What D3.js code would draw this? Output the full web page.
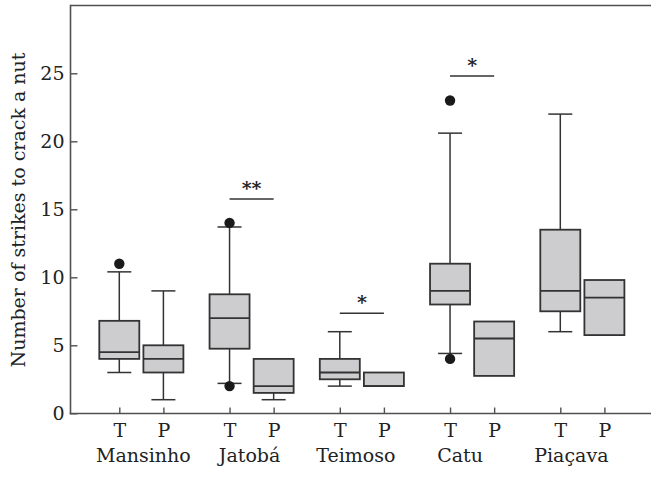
<!DOCTYPE html>
<html>
<head>
<meta charset="utf-8">
<script src="https://cdn.jsdelivr.net/npm/d3@7"></script>
<style>
  html, body { margin: 0; padding: 0; background: #fff; }
  svg { display: block; }
  text { font-family: "DejaVu Serif", "Liberation Serif", serif; fill: #222; }
</style>
</head>
<body>
<svg id="chart" width="651" height="477"></svg>
<script>
// ---------- data ----------
const sites = ["Mansinho", "Jatobá", "Teimoso", "Catu", "Piaçava"];
const treatments = ["T", "P"];
const yTicks = [0, 5, 10, 15, 20, 25];

// T series
const tLow    = [3,   2.2,  2,   4.4, 6];
const tQ1     = [4,   4.75, 2.5, 8,   7.5];
const tMedian = [4.5, 7,    3,   9,   9];
const tQ3     = [6.8, 8.75, 4,   11,  13.5];
const tHigh   = [10.4, 13.7, 6,  20.6, 22];
const tOutliers = [[11], [14, 2], [], [23, 4], []];

// P series
const pLow    = [1,   1,   2, 2.75, 5.75];
const pQ1     = [3,   1.5, 2, 2.75, 5.75];
const pMedian = [4,   2,   2, 5.5,  8.5];
const pQ3     = [5,   4,   3, 6.75, 9.8];
const pHigh   = [9,   4,   3, 6.75, 9.8];
const pOutliers = [[], [], [], [], []];

// significance markers (site, label, height)
const sigSites  = ["Jatobá", "Teimoso", "Catu"];
const sigLabels = ["**", "*", "*"];
const sigValues = [15.75, 7.35, 24.8];

// ---------- layout ----------
const W = 651, H = 477;
const plot = { left: 70.5, right: 651, top: 5.5, bottom: 413.5 };
const boxW = 40, capW = 24, dotR = 5.2;
const lineCol = "#505050", boxStroke = "#333", fill = "#cdcdcf";

const svg = d3.select("#chart");

// position of treatment j of site i (T at 1, P at 2; groups 2.5 apart)
const pos = (i, j) => i * 2.5 + 1 + j;
const x = d3.scaleLinear().domain([0, 13]).range([75.2, 648.5]);
const y = d3.scaleLinear().domain([0, 30]).range([413.3, 5.3]);

// build box records
const boxes = [];
sites.forEach((s, i) => {
  boxes.push({ site: s, tr: "T", p: pos(i, 0), low: tLow[i], q1: tQ1[i], med: tMedian[i], q3: tQ3[i], high: tHigh[i], out: tOutliers[i] });
  boxes.push({ site: s, tr: "P", p: pos(i, 1), low: pLow[i], q1: pQ1[i], med: pMedian[i], q3: pQ3[i], high: pHigh[i], out: pOutliers[i] });
});

// frame lines (top + axes)
svg.append("line").attr("x1", plot.left).attr("x2", plot.right).attr("y1", plot.top).attr("y2", plot.top)
  .attr("stroke", lineCol).attr("stroke-width", 1.6);

// y axis
const yAxis = d3.axisLeft(y).tickValues(yTicks).tickSize(-7).tickPadding(6).tickFormat(d3.format("d"));
const gy = svg.append("g").attr("transform", `translate(${plot.left},0)`).call(yAxis);
gy.select(".domain").remove();
gy.selectAll(".tick line").attr("stroke", lineCol).attr("stroke-width", 1.4);
gy.selectAll(".tick text").attr("font-size", 19).attr("font-family", '"DejaVu Serif", serif').attr("fill", "#222");
svg.append("line").attr("x1", plot.left).attr("x2", plot.left).attr("y1", plot.top - 0.8).attr("y2", plot.bottom + 0.8)
  .attr("stroke", lineCol).attr("stroke-width", 1.6);

// x axis
const xTickVals = boxes.map(b => b.p);
const xAxis = d3.axisBottom(x).tickValues(xTickVals).tickSize(-6).tickPadding(10)
  .tickFormat((d, k) => boxes[k].tr);
const gx = svg.append("g").attr("transform", `translate(0,${plot.bottom})`).call(xAxis);
gx.select(".domain").remove();
gx.selectAll(".tick line").attr("stroke", lineCol).attr("stroke-width", 1.4);
gx.selectAll(".tick text").attr("font-size", 19).attr("font-family", '"DejaVu Serif", serif').attr("fill", "#222");
svg.append("line").attr("x1", plot.left - 0.8).attr("x2", plot.right).attr("y1", plot.bottom).attr("y2", plot.bottom)
  .attr("stroke", lineCol).attr("stroke-width", 1.6);

// site labels
const labelShift = [2, -2, -6, -12, -11];
svg.append("g").selectAll("text").data(sites).join("text")
  .attr("x", (d, i) => (x(pos(i, 0)) + x(pos(i, 1))) / 2 + labelShift[i])
  .attr("y", 462)
  .attr("text-anchor", "middle")
  .attr("font-size", 19)
  .text(d => d);

// y title
svg.append("text")
  .attr("transform", "translate(25,210) rotate(-90)")
  .attr("text-anchor", "middle")
  .attr("font-size", 19)
  .text("Number of strikes to crack a nut");

// boxes
const g = svg.append("g");
const bg = g.selectAll("g.box").data(boxes).join("g").attr("class", "box");

// whiskers
bg.filter(d => d.high > d.q3).append("line")
  .attr("x1", d => x(d.p)).attr("x2", d => x(d.p)).attr("y1", d => y(d.q3)).attr("y2", d => y(d.high))
  .attr("stroke", boxStroke).attr("stroke-width", 1.5);
bg.filter(d => d.high > d.q3).append("line")
  .attr("x1", d => x(d.p) - capW / 2).attr("x2", d => x(d.p) + capW / 2).attr("y1", d => y(d.high)).attr("y2", d => y(d.high))
  .attr("stroke", boxStroke).attr("stroke-width", 1.5);
bg.filter(d => d.low < d.q1).append("line")
  .attr("x1", d => x(d.p)).attr("x2", d => x(d.p)).attr("y1", d => y(d.q1)).attr("y2", d => y(d.low))
  .attr("stroke", boxStroke).attr("stroke-width", 1.5);
bg.filter(d => d.low < d.q1).append("line")
  .attr("x1", d => x(d.p) - capW / 2).attr("x2", d => x(d.p) + capW / 2).attr("y1", d => y(d.low)).attr("y2", d => y(d.low))
  .attr("stroke", boxStroke).attr("stroke-width", 1.5);

// box
bg.append("rect")
  .attr("x", d => x(d.p) - boxW / 2).attr("width", boxW)
  .attr("y", d => y(d.q3)).attr("height", d => y(d.q1) - y(d.q3))
  .attr("fill", fill).attr("stroke", boxStroke).attr("stroke-width", 1.8);
// median
bg.append("line")
  .attr("x1", d => x(d.p) - boxW / 2).attr("x2", d => x(d.p) + boxW / 2)
  .attr("y1", d => y(d.med)).attr("y2", d => y(d.med))
  .attr("stroke", boxStroke).attr("stroke-width", 1.8);

// outliers
bg.selectAll("circle").data(d => d.out.map(v => ({ p: d.p, v }))).join("circle")
  .attr("cx", d => x(d.p)).attr("cy", d => y(d.v)).attr("r", dotR).attr("fill", "#1a1a1a");

// significance bars
const sg = svg.append("g");
sigSites.forEach((s, k) => {
  const i = sites.indexOf(s);
  const x1 = x(pos(i, 0)), x2 = x(pos(i, 1));
  sg.append("line").attr("x1", x1).attr("x2", x2).attr("y1", y(sigValues[k])).attr("y2", y(sigValues[k]))
    .attr("stroke", boxStroke).attr("stroke-width", 1.5);
  sg.append("text").attr("x", (x1 + x2) / 2).attr("y", y(sigValues[k]) - 4)
    .attr("text-anchor", "middle").attr("font-size", 19).attr("font-weight", "bold").text(sigLabels[k]);
});
</script>
</body>
</html>
